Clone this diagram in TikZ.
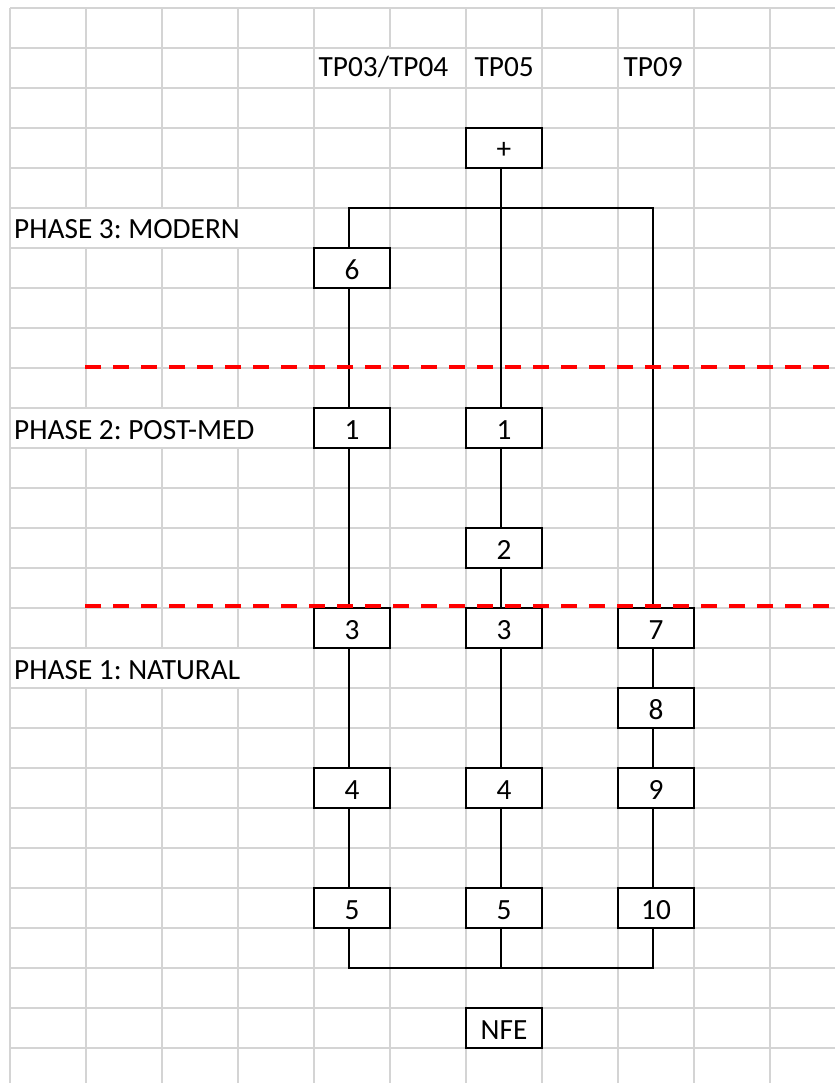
\documentclass[tikz,border=0pt]{standalone}
\usepackage{fontspec}
\setmainfont{Carlito}
\frenchspacing
\definecolor{gridgray}{RGB}{212,212,212}
\definecolor{phasered}{RGB}{255,0,0}
\newcommand\cellfont{\fontsize{29.3}{35}\selectfont}
\begin{document}
\begin{tikzpicture}[x=1pt,y=-1pt,
  gridline/.style={draw=gridgray, line width=1.2pt},
  cellmask/.style={fill=white},
  unitbox/.style={draw=black, fill=white, line width=1.4pt,
    minimum width=76pt, minimum height=40pt, inner sep=0pt,
    text height=22pt, text depth=0pt, font=\cellfont},
  celltext/.style={anchor=base west, inner sep=0pt, font=\cellfont},
  link/.style={draw=black, line width=1.1pt},
  phaseline/.style={draw=phasered, line width=4pt, dash pattern=on 16pt off 12pt}]

\useasboundingbox (0,0) rectangle (835,1083);
\fill[white] (0,0) rectangle (835,1083);

% spreadsheet grid
\foreach \i in {0,...,10}
  \draw[gridline] (10+76*\i,8) -- (10+76*\i,1083);
\foreach \j in {0,...,26}
  \draw[gridline] (10,8+40*\j) -- (835,8+40*\j);

% cells whose text runs over the neighbouring cells
\fill[cellmask] (314.6,48.6) rectangle (465.4,87.4);
\fill[cellmask] (10.6,208.6) rectangle (313.4,247.4);
\fill[cellmask] (10.6,408.6) rectangle (313.4,447.4);
\fill[cellmask] (10.6,648.6) rectangle (313.4,687.4);

% column headings
\node[celltext] (hA) at (318.5,77) {TP03/TP04};
\node[celltext] (hB) at (474.5,77) {TP05};
\node[celltext] (hC) at (623.5,77) {TP09};

% phase labels
\node[celltext] (p3) at (14,239) {PHASE 3: MODERN};
\node[celltext] (p2) at (14,439) {PHASE 2: POST-MED};
\node[celltext] (p1) at (14,679) {PHASE 1: NATURAL};

% units
\node[unitbox] (plus) at (504,148) {+};
\node[unitbox] (a6) at (352,268) {6};
\node[unitbox] (a1) at (352,428) {1};
\node[unitbox] (b1) at (504,428) {1};
\node[unitbox] (b2) at (504,548) {2};
\node[unitbox] (a3) at (352,628) {3};
\node[unitbox] (b3) at (504,628) {3};
\node[unitbox] (c7) at (656,628) {7};
\node[unitbox] (c8) at (656,708) {8};
\node[unitbox] (a4) at (352,788) {4};
\node[unitbox] (b4) at (504,788) {4};
\node[unitbox] (c9) at (656,788) {9};
\node[unitbox] (a5) at (352,908) {5};
\node[unitbox] (b5) at (504,908) {5};
\node[unitbox] (c10) at (656,908) {10};
\node[unitbox] (nfe) at (504,1028) {NFE};

% junction points of the top and bottom bars
\coordinate (topL) at (349,208);
\coordinate (topR) at (653,208);
\coordinate (botL) at (349,968);
\coordinate (botR) at (653,968);

% connectors
\draw[link] ([xshift=-3pt]plus.south) -- ([xshift=-3pt]b1.north);
\draw[link] ([xshift=-3pt]a6.north) -- (topL) -- (topR) -- ([xshift=-3pt]c7.north);
\draw[link] ([xshift=-3pt]a6.south) -- ([xshift=-3pt]a1.north);
\draw[link] ([xshift=-3pt]a1.south) -- ([xshift=-3pt]a3.north);
\draw[link] ([xshift=-3pt]a3.south) -- ([xshift=-3pt]a4.north);
\draw[link] ([xshift=-3pt]a4.south) -- ([xshift=-3pt]a5.north);
\draw[link] ([xshift=-3pt]b1.south) -- ([xshift=-3pt]b2.north);
\draw[link] ([xshift=-3pt]b2.south) -- ([xshift=-3pt]b3.north);
\draw[link] ([xshift=-3pt]b3.south) -- ([xshift=-3pt]b4.north);
\draw[link] ([xshift=-3pt]b4.south) -- ([xshift=-3pt]b5.north);
\draw[link] ([xshift=-3pt]c7.south) -- ([xshift=-3pt]c8.north);
\draw[link] ([xshift=-3pt]c8.south) -- ([xshift=-3pt]c9.north);
\draw[link] ([xshift=-3pt]c9.south) -- ([xshift=-3pt]c10.north);
\draw[link] ([xshift=-3pt]a5.south) -- (botL) -- (botR) -- ([xshift=-3pt]c10.south);
\draw[link] ([xshift=-3pt]b5.south) -- ([xshift=-3pt]b5.south |- botL);

% phase boundaries
\coordinate (ph32s) at (85,366.5);
\coordinate (ph32e) at (835,366.5);
\coordinate (ph21s) at (85,606);
\coordinate (ph21e) at (835,606);
\draw[phaseline] (ph32s) -- (ph32e);
\draw[phaseline] (ph21s) -- (ph21e);
\end{tikzpicture}
\end{document}
